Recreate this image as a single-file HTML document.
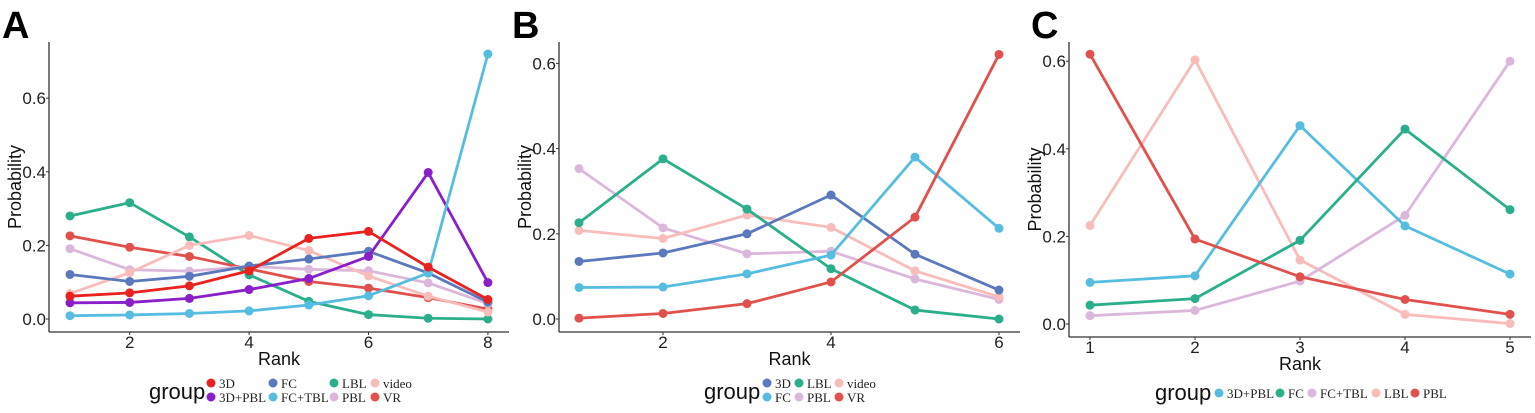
<!DOCTYPE html>
<html><head><meta charset="utf-8"><style>
body{margin:0;background:#fff;}
svg text{font-family:"Liberation Sans",sans-serif;}
</style></head><body>
<svg id="s" width="1535" height="408" xmlns="http://www.w3.org/2000/svg"></svg>
<script>
const S=document.getElementById('s');let h='';
const C={red:'#e8221f',pur:'#8a1fc9',blu:'#5b78bd',cya:'#57bde0',grn:'#2aae8c',lil:'#dcb7dc',pnk:'#f8bdbb',vr:'#e0504d'};
function panel(p){
  const {ax,ar,at,ab,x1,xs,y0,k,ticks,series,letter,lx,rankY,tickY}=p;
  h+=`<text x="${lx}" y="38" font-size="38" font-weight="bold" fill="#000">${letter}</text>`;
  h+=`<line x1="${ax}" y1="${at}" x2="${ax}" y2="${ab}" stroke="#333" stroke-width="1.3"/>`;
  h+=`<line x1="${ax}" y1="${ab}" x2="${ar}" y2="${ab}" stroke="#333" stroke-width="1.3"/>`;
  [0,0.2,0.4,0.6].forEach(v=>{const y=y0-v*k;h+=`<line x1="${ax-3}" y1="${y}" x2="${ax}" y2="${y}" stroke="#333"/><text x="${ax-3}" y="${y+6}" font-size="17" text-anchor="end" fill="#222">${v.toFixed(1)}</text>`;});
  ticks.forEach(t=>{const x=x1+(t-1)*xs;h+=`<line x1="${x}" y1="${ab}" x2="${x}" y2="${ab+3}" stroke="#333"/><text x="${x}" y="${tickY}" font-size="17" text-anchor="middle" fill="#222">${t}</text>`;});
  h+=`<text x="${(ax+ar)/2}" y="${rankY}" font-size="18" text-anchor="middle" fill="#111">Rank</text>`;
  h+=`<text transform="translate(${ax-28},${(at+ab)/2}) rotate(-90)" font-size="18" text-anchor="middle" fill="#111">Probability</text>`;
  series.forEach(([c,d])=>{const pts=d.map((v,i)=>[x1+i*xs,y0-v*k]);
    h+=`<polyline fill="none" stroke="${c}" stroke-width="2.8" stroke-linejoin="round" points="${pts.map(q=>q.join(',')).join(' ')}"/>`;
    pts.forEach(q=>h+=`<circle cx="${q[0]}" cy="${q[1]}" r="4.5" fill="${c}"/>`);});
}
panel({letter:'A',lx:2,ax:49,ar:509,at:42,ab:332,x1:70,xs:59.7,y0:319,k:368,ticks:[2,4,6,8],rankY:365,tickY:348,series:[
[C.grn,[.28,.316,.223,.12,.048,.012,.002,0]],
[C.vr,[.226,.195,.17,.136,.102,.084,.058,.027]],
[C.lil,[.191,.134,.13,.143,.135,.131,.098,.042]],
[C.pnk,[.069,.126,.2,.227,.186,.117,.062,.019]],
[C.blu,[.121,.102,.116,.144,.163,.184,.125,.046]],
[C.pur,[.044,.045,.056,.08,.11,.17,.398,.099]],
[C.cya,[.009,.011,.015,.022,.038,.063,.125,.72]],
[C.red,[.062,.071,.09,.131,.219,.238,.141,.053]]]});
panel({letter:'B',lx:512,ax:559,ar:1020,at:42,ab:332,x1:579,xs:84,y0:319,k:426,ticks:[2,4,6],rankY:365,tickY:348,series:[
[C.lil,[.353,.214,.153,.159,.094,.046]],
[C.pnk,[.208,.189,.244,.215,.113,.052]],
[C.grn,[.226,.376,.258,.118,.021,0]],
[C.blu,[.135,.155,.2,.291,.152,.068]],
[C.cya,[.074,.075,.106,.15,.38,.213]],
[C.vr,[.002,.013,.036,.087,.239,.621]]]});
panel({letter:'C',lx:1031,ax:1069,ar:1531,at:42,ab:337,x1:1090,xs:105,y0:324,k:438,ticks:[1,2,3,4,5],rankY:370,tickY:353,series:[
[C.pnk,[.225,.603,.146,.022,.001]],
[C.lil,[.019,.031,.098,.248,.6]],
[C.cya,[.095,.11,.453,.224,.114]],
[C.grn,[.043,.058,.191,.445,.261]],
[C.vr,[.616,.194,.108,.056,.022]]]});
function leg(gx,gy,items){h+=`<text x="${gx}" y="${gy}" font-size="22" fill="#111">group</text>`;
 items.forEach(([x,c,t,y])=>{h+=`<circle cx="${x}" cy="${y}" r="4.5" fill="${c}"/><text x="${x+8}" y="${y+5}" font-size="13" fill="#222" style="font-family:'Liberation Serif',serif">${t}</text>`;});}
leg(149,399,[[211,C.red,'3D',383],[211,C.pur,'3D+PBL',397],[273,C.blu,'FC',383],[273,C.cya,'FC+TBL',397],[334,C.grn,'LBL',383],[334,C.lil,'PBL',397],[375,C.pnk,'video',383],[375,C.vr,'VR',397]]);
leg(704,399,[[767,C.blu,'3D',383],[767,C.cya,'FC',397],[799,C.grn,'LBL',383],[799,C.lil,'PBL',397],[839,C.pnk,'video',383],[839,C.vr,'VR',397]]);
leg(1155,400,[[1219,C.cya,'3D+PBL',393],[1280,C.grn,'FC',393],[1312,C.lil,'FC+TBL',393],[1376,C.pnk,'LBL',393],[1415,C.vr,'PBL',393]]);
S.innerHTML=h;
</script>
</body></html>
